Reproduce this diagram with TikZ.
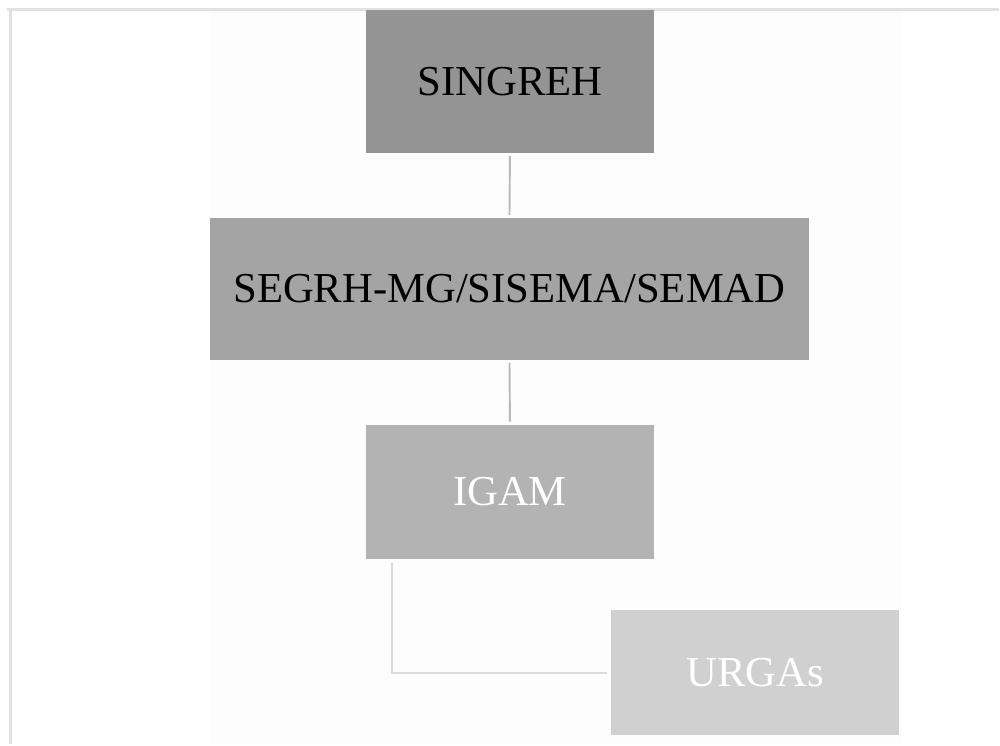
\documentclass[tikz,border=0pt]{standalone}
\usepackage{fontspec}
\setmainfont{Liberation Serif}
\usepackage{tikz}
\usetikzlibrary{positioning}
\definecolor{lvlone}{HTML}{949494}
\definecolor{lvltwo}{HTML}{A4A4A4}
\definecolor{lvlthree}{HTML}{B3B3B3}
\definecolor{lvlfour}{HTML}{D0D0D0}
\definecolor{framegray}{HTML}{E2E2E2}
\definecolor{panelgray}{HTML}{FDFDFD}

\begin{document}
\begin{tikzpicture}[
    unit/.style={inner sep=0pt, minimum width=5.78cm, minimum height=2.8cm,
                 align=center, font=\fontsize{24.3}{28}\selectfont},
    link/.style={line width=1.1pt, draw=gray!55, shorten <=1.5pt, shorten >=1.5pt},
    sublink/.style={line width=1.1pt, draw=gray!28},
  ]
    % === canvas, panel and frame ===
    \fill[white] (0,0) rectangle (20,-14.9);
    \fill[panelgray] (4.2,-0.19) rectangle (18.06,-14.9);
    \draw[framegray, line width=1.2pt] (0.14,-0.19) -- (20,-0.19);
    \draw[framegray, line width=1.2pt] (0.21,-0.22) -- (0.21,-14.9);

    % === hierarchy levels ===
    \node[unit, fill=lvlone, minimum height=2.86cm] (singreh) at (10.21,-1.63)
      {SINGREH};
    \node[unit, fill=lvltwo, minimum width=12cm, minimum height=2.84cm] (segrh) at (10.2,-5.78)
      {SEGRH-MG/SISEMA/SEMAD};
    \node[unit, fill=lvlthree, text=white, minimum height=2.7cm] (igam) at (10.21,-9.85)
      {IGAM};
    \node[unit, fill=lvlfour, text=white, minimum width=5.76cm, minimum height=2.5cm] (urgas) at (15.12,-13.47)
      {URGAs};

    % === connectors ===
    \draw[link] (singreh.south) -- (segrh.north);
    \draw[link] (segrh.south) -- (igam.north);
    \draw[sublink] ([xshift=0.54cm, yshift=-2pt]igam.south west) |- ([xshift=-2.5pt]urgas.west);
  \end{tikzpicture}
\end{document}
